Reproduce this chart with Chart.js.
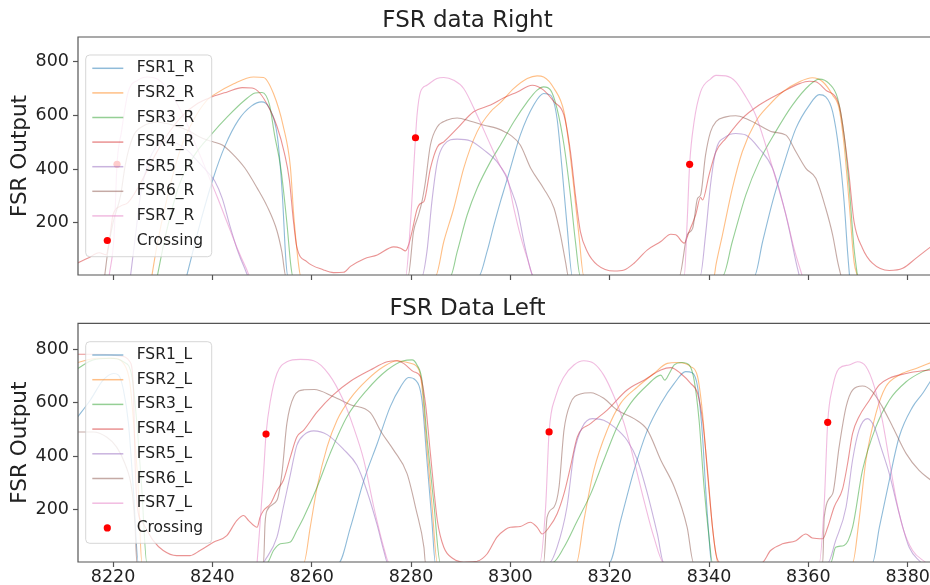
<!DOCTYPE html>
<html>
<head>
<meta charset="utf-8">
<title>FSR data</title>
<script src="https://cdn.jsdelivr.net/npm/chart.js@4.4.1/dist/chart.umd.min.js"></script>
<style>
  body { margin: 0; background: #fff; }
  #wrap { position: relative; width: 930px; height: 585px; overflow: hidden; }
  canvas { position: absolute; left: 0; }
</style>
</head>
<body>
<div id="wrap">
  <!-- 5px wider than the page: chart.js keeps 5px free on the right, the plot has to touch the edge -->
  <canvas id="rightChart" width="935" height="290" style="top:0"></canvas>
  <canvas id="leftChart" width="935" height="295" style="top:290px"></canvas>
</div>
<script>
"use strict";

// ---- data: [frame, FSR output] ----
const xTicks = [8220, 8240, 8260, 8280, 8300, 8320, 8340, 8360, 8380];
const yTicks = [200, 400, 600, 800];

const rightLabels = ["FSR1_R", "FSR2_R", "FSR3_R", "FSR4_R", "FSR5_R", "FSR6_R", "FSR7_R"];
const leftLabels = ["FSR1_L", "FSR2_L", "FSR3_L", "FSR4_L", "FSR5_L", "FSR6_L", "FSR7_L"];

const fsr1Right = [
  [8234.8, 0], [8237.8, 216], [8240.2, 368], [8242.5, 485], [8245.2, 582], [8247.9, 636], [8249.9, 651], [8251.4, 630],
  [8253.1, 520], [8254.1, 300], [8254.8, 60], [8255.2, 0],
  [8293.6, 0], [8295.3, 92], [8296.7, 192], [8298, 279], [8299, 340], [8300, 403], [8302, 527], [8304.7, 639],
  [8306.7, 682], [8308.1, 676], [8309.4, 589], [8310.4, 403], [8311.4, 192], [8312.5, 0],
  [8349.1, 0], [8350.8, 130], [8352.8, 279], [8354.8, 403], [8357.5, 552], [8360.2, 639], [8362.2, 678], [8363.5, 670],
  [8364.9, 614], [8366.2, 465], [8367.2, 279], [8367.9, 92], [8368.3, 0]
];
const fsr2Right = [
  [8227.8, 0], [8228.8, 111], [8230.8, 285], [8233.5, 471], [8236.2, 583], [8238.9, 657], [8240.2, 676], [8244.3, 719],
  [8248.3, 744], [8250.3, 742], [8252.3, 682], [8254.3, 558], [8255.7, 409], [8256.4, 223], [8257.4, 37], [8257.8, 0],
  [8284.9, 0], [8286.6, 130], [8288.6, 254], [8290.6, 403], [8293.3, 539], [8296, 614], [8298, 648], [8300.7, 701],
  [8303.4, 738], [8305.4, 748], [8306.7, 744], [8308.8, 701], [8310.8, 614], [8311.8, 490], [8312.8, 328], [8313.8, 154], [8314.8, 0],
  [8341, 0], [8341.4, 43], [8342.7, 154], [8344.7, 328], [8346.7, 465], [8349.4, 577], [8352.1, 639], [8354.8, 688],
  [8358.2, 726], [8360.8, 741], [8362.9, 726], [8364.9, 676], [8366.2, 626], [8367.2, 490], [8368.2, 279], [8369.2, 55], [8369.9, 0]
];
const fsr3Right = [
  [8228.9, 0], [8230.6, 155], [8233.3, 340], [8236.5, 455], [8239.8, 530], [8243, 595], [8246.5, 657], [8248.6, 684],
  [8250, 686], [8251.5, 640], [8252.5, 530], [8253.8, 400], [8255, 200], [8255.8, 40], [8256.2, 0],
  [8287.9, 0], [8289.3, 92], [8291.3, 229], [8293.3, 328], [8296, 428], [8298, 490], [8300.7, 577], [8303.4, 651],
  [8305.4, 695], [8306.7, 707], [8308.1, 695], [8309.4, 626], [8310.8, 490], [8312.1, 303], [8313.1, 130], [8314.1, 0],
  [8342.7, 0], [8344.7, 130], [8347.4, 303], [8350.1, 428], [8353.4, 539], [8356.8, 639], [8360.2, 713], [8362.2, 736],
  [8364.2, 719], [8365.9, 664], [8367.2, 527], [8368.2, 341], [8369.2, 105], [8369.9, 0]
];
const fsr4Right = [
  [8212.9, 50], [8215, 68], [8217.2, 88], [8218.6, 80], [8219.3, 140], [8220, 230], [8221.5, 262], [8223, 275],
  [8225, 330], [8227, 400], [8229, 470], [8231, 530], [8234, 600], [8237, 645], [8240, 670], [8243, 688],
  [8246, 704], [8248, 703], [8249.5, 685], [8251.5, 625], [8253, 560], [8254.5, 460], [8255.5, 360], [8256.3, 210],
  [8257, 110], [8259, 55], [8262.4, 24], [8264.4, 14], [8266.4, 15], [8267.8, 37], [8270.5, 65], [8273.2, 80],
  [8276.5, 110], [8277.9, 105], [8278.9, 95], [8279.5, 117], [8280.2, 167], [8281.2, 250], [8281.9, 272], [8282.6, 279],
  [8283.9, 403], [8285.3, 483], [8286.6, 502], [8289.3, 552], [8292.6, 614], [8296, 639], [8298.7, 666], [8301.4, 688],
  [8304.4, 713], [8306.7, 695], [8308.8, 651], [8310.8, 601], [8312.1, 465], [8313.1, 303], [8314.1, 167], [8315.5, 92],
  [8317.5, 43], [8320.9, 20], [8322.9, 24], [8324.9, 49], [8327.6, 99], [8330.3, 130], [8332.3, 157], [8333.3, 155],
  [8335, 124], [8336, 167], [8337.3, 229], [8338.3, 294], [8338.7, 285], [8340, 378], [8341.4, 465], [8343.4, 515],
  [8346.7, 589], [8350.1, 639], [8354.8, 688], [8358.2, 719], [8360.2, 728], [8361.5, 726], [8363.5, 695], [8366.2, 639],
  [8367.2, 527], [8368.2, 378], [8369.2, 204], [8370.9, 105], [8372.9, 49], [8376.3, 22], [8379, 30], [8381.7, 68], [8384.7, 111]
];
const fsr5Right = [
  [8223.5, 0], [8224.5, 150], [8225.5, 300], [8227, 420], [8229, 490], [8231, 505], [8233, 495], [8235, 470],
  [8237, 430], [8239, 390], [8240.5, 355], [8242, 290], [8243.5, 190], [8245, 100], [8246.5, 30], [8247.3, 0],
  [8282.2, 0], [8283.2, 92], [8284.2, 279], [8285.3, 428], [8286.6, 490], [8289.3, 512], [8292, 505], [8294.7, 471],
  [8297.3, 428], [8299, 378], [8300, 330], [8301.4, 254], [8302.7, 130], [8304, 30], [8304.6, 0],
  [8338.2, 0], [8339.3, 154], [8340.3, 341], [8341.4, 470], [8343.4, 521], [8345.4, 533], [8347.4, 527], [8350.1, 477],
  [8352.8, 403], [8354.8, 279], [8356.1, 179], [8357.5, 55], [8358.2, 0]
];
const fsr6Right = [
  [8218.3, 0], [8219, 100], [8220, 200], [8221.5, 300], [8222.5, 420], [8224, 520], [8226, 560], [8229, 575],
  [8232, 565], [8235, 545], [8238, 515], [8240, 503], [8242, 490], [8244, 458], [8246.5, 405], [8249, 330],
  [8251, 262], [8253, 170], [8254, 90], [8254.8, 0],
  [8279.4, 0], [8280.5, 167], [8281.5, 229], [8282.2, 279], [8282.9, 353], [8283.9, 490], [8285.3, 558], [8287.3, 583],
  [8289.3, 591], [8292, 579], [8294.7, 564], [8297.3, 552], [8299, 538], [8300, 527], [8302, 490], [8304.1, 403],
  [8306.7, 328], [8308.8, 254], [8310.1, 154], [8311.1, 55], [8311.7, 0],
  [8334, 0], [8335.6, 154], [8336.7, 179], [8337.7, 291], [8338.3, 303], [8339.3, 452], [8340.3, 539], [8341.4, 577],
  [8343.4, 595], [8345.4, 599], [8347.4, 589], [8350.1, 564], [8352.8, 539], [8355.5, 527], [8357.5, 465], [8359.5, 403],
  [8361.5, 366], [8363.5, 254], [8364.9, 154], [8365.9, 55], [8366.6, 0]
];
const fsr7Right = [
  [8219.2, 0], [8220.2, 150], [8220.8, 418], [8221.7, 540], [8223, 685], [8225, 732], [8227, 744], [8229, 735],
  [8231, 700], [8233, 640], [8235, 565], [8237, 475], [8239, 385], [8241, 295], [8243, 200], [8245, 105], [8246.8, 30], [8247.6, 0],
  [8278.9, 0], [8279.9, 204], [8280.9, 517], [8281.2, 600], [8281.9, 688], [8283.2, 713], [8285.2, 738], [8286.6, 742],
  [8288.6, 732], [8290.6, 701], [8293.3, 601], [8296, 490], [8298, 410], [8299.4, 366], [8300.7, 254], [8302, 154], [8303.4, 68], [8304.7, 0],
  [8335, 0], [8335.6, 204], [8336.1, 418], [8337, 577], [8338.3, 688], [8340.4, 738], [8341.4, 750], [8343.4, 748],
  [8345.4, 726], [8347.4, 670], [8349.4, 601], [8351.4, 490], [8353.4, 366], [8355.5, 229], [8357.1, 105], [8358.8, 0]
];
const crossRight = [[8220.8, 418], [8280.9, 517], [8336.1, 418]];

const fsr1Left = [
  [8212.9, 547], [8215.4, 609], [8218, 684], [8220.1, 709], [8221.1, 703], [8222.1, 647], [8223.1, 522], [8224.1, 271], [8225.1, 0],
  [8265.4, 0], [8267.8, 133], [8270.5, 309], [8273.2, 447], [8275.8, 584], [8277.9, 659], [8279.5, 694], [8280.9, 684],
  [8282.2, 609], [8283.2, 384], [8284.2, 158], [8284.9, 0],
  [8319.9, 0], [8322.2, 158], [8324.9, 346], [8327.6, 497], [8330.3, 597], [8333, 672], [8335.3, 716], [8336.6, 712],
  [8337.7, 659], [8338.7, 472], [8339.3, 284], [8340, 96], [8340.5, 0],
  [8372.9, 0], [8374.3, 133], [8376.3, 309], [8378.3, 472], [8381, 584], [8383, 634], [8384.7, 684]
];
const fsr2Left = [
  [8212.9, 750], [8216.7, 766], [8220.1, 766], [8222.1, 747], [8223.4, 672], [8224.4, 459], [8225.1, 271], [8225.8, 0],
  [8258.4, 0], [8259.7, 133], [8261.1, 284], [8263.1, 434], [8265.1, 534], [8267.8, 616], [8271.1, 684], [8274.5, 735],
  [8277.2, 757], [8279.9, 747], [8281.6, 722], [8282.2, 659], [8283.2, 434], [8284.2, 221], [8285.3, 0],
  [8313.3, 0], [8314.8, 158], [8316.8, 346], [8319.5, 497], [8322.2, 597], [8325.6, 659], [8328.9, 709], [8331.6, 747],
  [8333.6, 750], [8336.3, 735], [8337.7, 697], [8338.7, 559], [8339.7, 334], [8340.7, 133], [8341.4, 33], [8341.8, 0],
  [8368.9, 0], [8370.2, 158], [8371.6, 384], [8373.6, 559], [8375.6, 659], [8378.3, 703], [8381.7, 728], [8384.7, 750]
];
const fsr3Left = [
  [8212.9, 728], [8216, 760], [8219.4, 766], [8222.1, 753], [8223.8, 697], [8224.8, 522], [8225.8, 271], [8226.8, 0],
  [8251, 0], [8252.3, 46], [8253.7, 71], [8255.7, 78], [8257, 121], [8258.4, 171], [8261.1, 284], [8263.7, 409],
  [8267.1, 547], [8271.1, 647], [8275.2, 722], [8278.5, 757], [8280.2, 760], [8281.2, 741], [8282.2, 684], [8283.2, 472],
  [8284.6, 221], [8285.9, 0],
  [8308.4, 0], [8310.8, 58], [8313.5, 158], [8316.2, 259], [8318.8, 384], [8321.5, 509], [8324.2, 597], [8327.6, 666],
  [8330.3, 703], [8331.1, 684], [8332, 709], [8333, 741], [8334.6, 750], [8336, 741], [8337, 684], [8338, 534],
  [8339, 284], [8340, 96], [8340.7, 0],
  [8364.5, 0], [8365.5, 58], [8367.2, 65], [8368.9, 133], [8370.9, 346], [8373.6, 509], [8376.3, 609], [8379.7, 678],
  [8383, 716], [8384.7, 728]
];
const fsr4Left = [
  [8212.8, 781], [8217.4, 781], [8221.4, 775], [8223.4, 753], [8224.1, 647], [8224.4, 396], [8224.9, 209], [8226.1, 146],
  [8228.1, 83], [8230.1, 46], [8232.8, 27], [8235.5, 27], [8237.5, 46], [8240.2, 77], [8242.9, 102], [8244.9, 158],
  [8246.3, 177], [8247.3, 158], [8249, 133], [8249.6, 171], [8250.3, 196], [8251.7, 221], [8253, 271], [8254.3, 309],
  [8255.7, 396], [8257, 471], [8258.4, 497], [8261.1, 565], [8264.4, 630], [8267.8, 680], [8271.8, 722], [8275.2, 753],
  [8277.2, 757], [8278.5, 747], [8280.5, 716], [8281.9, 697], [8282.9, 597], [8283.9, 409], [8285.3, 158], [8286.6, 58],
  [8288.6, 14], [8290.6, 2], [8293.3, 6], [8295.3, 33], [8297.3, 96], [8299, 125], [8300, 133], [8302, 136],
  [8304, 152], [8305.4, 133], [8306.4, 108], [8307.8, 133], [8309.4, 183], [8310.8, 259], [8312.1, 359], [8313.5, 472],
  [8316.2, 522], [8319.5, 572], [8323.5, 647], [8326.9, 684], [8330.3, 722], [8332.3, 731], [8334.3, 709], [8336.3, 672],
  [8337.7, 634], [8338.7, 534], [8339.7, 346], [8340.7, 133], [8341.4, 33], [8342.3, 0], [8350.6, 0], [8352.4, 46],
  [8354.8, 71], [8357.5, 83], [8359.5, 108], [8360.8, 93], [8362.9, 90], [8363.9, 133], [8365.2, 209], [8366.9, 277],
  [8367.9, 371], [8368.9, 484], [8370.2, 547], [8372.3, 609], [8374.3, 666], [8376.3, 691], [8379.7, 709], [8383, 719], [8384.7, 722]
];
const fsr5Left = [
  [8250.3, 0], [8253, 96], [8254.3, 209], [8255.7, 330], [8257, 440], [8258.5, 480], [8260.4, 494], [8263.1, 480],
  [8266.4, 425], [8269.1, 365], [8271.1, 270], [8273.2, 140], [8274.5, 46], [8275.3, 0],
  [8307.8, 0], [8309.4, 58], [8311.4, 209], [8312.8, 409], [8314.5, 509], [8316.5, 540], [8318.8, 534], [8320.9, 509],
  [8323.5, 459], [8325.6, 384], [8327.6, 259], [8329.6, 108], [8330.9, 0],
  [8363.9, 0], [8365.5, 83], [8367.6, 209], [8368.9, 384], [8370.2, 497], [8371.9, 540], [8373.3, 509], [8374.6, 434],
  [8376.3, 334], [8378.3, 184], [8380.3, 58], [8382.7, 0]
];
const fsr6Left = [
  [8212.8, 490], [8216, 490], [8218.7, 471], [8220.7, 434], [8222.4, 371], [8223.8, 271], [8224.4, 146], [8224.8, 0],
  [8250.3, 0], [8250.6, 146], [8251, 196], [8253, 234], [8254, 334], [8255, 522], [8256.4, 622], [8258.5, 648],
  [8260.5, 649], [8264.4, 622], [8267.8, 592], [8271.8, 562], [8274, 490], [8276.5, 422], [8279.2, 334], [8281, 200],
  [8282.6, 58], [8282.9, 0],
  [8306.7, 0], [8307.4, 171], [8308.8, 209], [8309.8, 284], [8310.8, 497], [8312.1, 597], [8314.1, 632], [8316.2, 637],
  [8318.8, 616], [8321.5, 572], [8324.9, 540], [8327.6, 497], [8330.3, 384], [8333, 284], [8335.6, 133], [8336.9, 0],
  [8362.9, 0], [8363.2, 171], [8364.9, 259], [8366.2, 434], [8367.6, 584], [8368.9, 647], [8370.9, 662], [8372.9, 641],
  [8374.9, 584], [8377, 509], [8379.7, 409], [8382.3, 346], [8384.7, 309]
];
const fsr7Left = [
  [8249, 0], [8249.6, 146], [8250.3, 334], [8250.8, 482], [8251.7, 609], [8253, 709], [8255, 753], [8257.7, 762],
  [8260.4, 757], [8263.5, 705], [8266.2, 615], [8268.4, 509], [8270.5, 384], [8272.5, 209], [8274.5, 58], [8275.6, 0],
  [8305.9, 0], [8307.1, 209], [8307.8, 490], [8309.1, 622], [8310.8, 697], [8312.8, 741], [8314.8, 757], [8316.8, 747],
  [8318.8, 703], [8320.9, 622], [8322.9, 522], [8324.9, 384], [8326.9, 234], [8328.9, 96], [8330.9, 0],
  [8362.2, 0], [8363.2, 221], [8363.9, 526], [8364.9, 659], [8366.2, 728], [8368.2, 741], [8369.9, 753], [8371.6, 735],
  [8373.3, 659], [8374.9, 534], [8376.3, 384], [8377.6, 246], [8379, 133], [8381, 46], [8383.7, 0]
];
const crossLeft = [[8250.8, 482], [8307.8, 490], [8363.9, 526]];

// matplotlib tab10, drawn half transparent
const lineColors = [
  "rgba(31,119,180,0.5)",
  "rgba(255,127,14,0.5)",
  "rgba(44,160,44,0.5)",
  "rgba(214,39,40,0.5)",
  "rgba(148,103,189,0.5)",
  "rgba(140,86,75,0.5)",
  "rgba(227,119,194,0.5)",
];

Chart.defaults.font.family = "'DejaVu Sans', sans-serif";
Chart.defaults.color = "#222";

const toPoints = (arr) => arr.map(([x, y]) => ({ x: x, y: y }));

const buildDatasets = (labels, series, crossing) => {
  const sets = series.map((s, i) => ({
    label: labels[i],
    data: toPoints(s),
    borderColor: lineColors[i],
    borderWidth: 1.1,
    pointRadius: 0,
    cubicInterpolationMode: "monotone",
    clip: 0,
    order: 7 - i,
  }));
  sets.push({
    label: "Crossing",
    data: toPoints(crossing),
    showLine: false,
    pointRadius: 3.6,
    pointBorderWidth: 0,
    pointBackgroundColor: "#ff0000",
    borderColor: "#ff0000",
    backgroundColor: "#ff0000",
    order: -1,
  });
  return sets;
};

// spines + matplotlib style legend box
const frameAndLegend = {
  id: "frameAndLegend",
  afterDatasetsDraw(chart, args, opts) {
    const { ctx, chartArea: a } = chart;
    ctx.save();
    ctx.strokeStyle = "#555";
    ctx.lineWidth = 1.2;
    ctx.beginPath();
    ctx.moveTo(a.right, a.bottom);
    ctx.lineTo(a.left, a.bottom);
    ctx.lineTo(a.left, a.top);
    ctx.lineTo(a.right, a.top);
    ctx.stroke();

    // legend
    const r = 4;
    const { x, y, w, h } = opts;
    ctx.beginPath();
    ctx.moveTo(x + r, y);
    ctx.arcTo(x + w, y, x + w, y + h, r);
    ctx.arcTo(x + w, y + h, x, y + h, r);
    ctx.arcTo(x, y + h, x, y, r);
    ctx.arcTo(x, y, x + w, y, r);
    ctx.closePath();
    ctx.fillStyle = "rgba(255,255,255,0.8)";
    ctx.fill();
    ctx.strokeStyle = "rgba(204,204,204,0.8)";
    ctx.lineWidth = 1;
    ctx.stroke();

    ctx.font = "15.5px 'DejaVu Sans'";
    ctx.textBaseline = "middle";
    chart.data.datasets.forEach((ds, i) => {
      const ry = y + opts.first + i * opts.gap;
      if (ds.showLine === false) {
        ctx.fillStyle = ds.pointBackgroundColor;
        ctx.beginPath();
        ctx.arc(x + 21.6, ry, 3.6, 0, Math.PI * 2);
        ctx.fill();
      } else {
        ctx.strokeStyle = ds.borderColor;
        ctx.lineWidth = 1.5;
        ctx.beginPath();
        ctx.moveTo(x + 6.6, ry);
        ctx.lineTo(x + 37.6, ry);
        ctx.stroke();
      }
      ctx.fillStyle = "#222";
      ctx.fillText(ds.label, x + 51, ry);
    });
    ctx.restore();
  },
};

const makeChart = (id, title, datasets, cfg) => {
  return new Chart(document.getElementById(id), {
    type: "line",
    data: { datasets: datasets },
    plugins: [frameAndLegend],
    options: {
      responsive: false,
      animation: false,
      devicePixelRatio: 1,
      layout: { padding: 0 },
      plugins: {
        legend: { display: false },
        tooltip: { enabled: false },
        title: {
          display: true,
          text: title,
          font: { size: 23, weight: "normal" },
          color: "#222",
          padding: cfg.titlePad,
        },
        frameAndLegend: cfg.legend,
      },
      scales: {
        x: {
          type: "linear",
          min: 8212.94,
          max: 8384.7,
          border: { display: false },
          grid: { display: true, drawOnChartArea: false, drawTicks: true, tickLength: 5, tickColor: "#555", tickWidth: 1.2 },
          ticks: {
            display: cfg.xLabels,
            padding: 0,
            font: { size: 17.5 },
            color: "#222",
            maxRotation: 0,
            callback: (v) => String(v),
          },
          afterBuildTicks: (s) => { s.ticks = xTicks.map((v) => ({ value: v })); },
          afterFit: (s) => { s.height = cfg.xHeight; s.paddingLeft = 0; s.paddingRight = 0; },
        },
        y: {
          min: cfg.yMin,
          max: cfg.yMax,
          border: { display: false },
          grid: { display: true, drawOnChartArea: false, drawTicks: true, tickLength: 5, tickColor: "#555", tickWidth: 1.2 },
          ticks: { padding: 4, font: { size: 17.5 }, color: "#222" },
          title: {
            display: true,
            text: "FSR Output",
            font: { size: 21.5 },
            color: "#222",
            padding: { top: 7.5, bottom: 0 },
          },
          afterBuildTicks: (s) => { s.ticks = yTicks.map((v) => ({ value: v })); },
          afterFit: (s) => { s.width = 78; s.paddingTop = 0; s.paddingBottom = 0; },
        },
      },
    },
  });
};

makeChart(
  "rightChart",
  "FSR data Right",
  buildDatasets(rightLabels, [fsr1Right, fsr2Right, fsr3Right, fsr4Right, fsr5Right, fsr6Right, fsr7Right], crossRight),
  {
    titlePad: { top: 7, bottom: 2.4 },
    xLabels: false,
    xHeight: 15,
    yMin: 5,
    yMax: 893,
    legend: { x: 85.7, y: 55, w: 126, h: 201.7, first: 13.3, gap: 24.6 },
  }
);

makeChart(
  "leftChart",
  "FSR Data Left",
  buildDatasets(leftLabels, [fsr1Left, fsr2Left, fsr3Left, fsr4Left, fsr5Left, fsr6Left, fsr7Left], crossLeft),
  {
    titlePad: { top: 5, bottom: 0.7 },
    xLabels: true,
    xHeight: 23,
    yMin: 3,
    yMax: 897,
    legend: { x: 85.7, y: 51.7, w: 126, h: 201.6, first: 13.3, gap: 24.7 },
  }
);
</script>
</body>
</html>
